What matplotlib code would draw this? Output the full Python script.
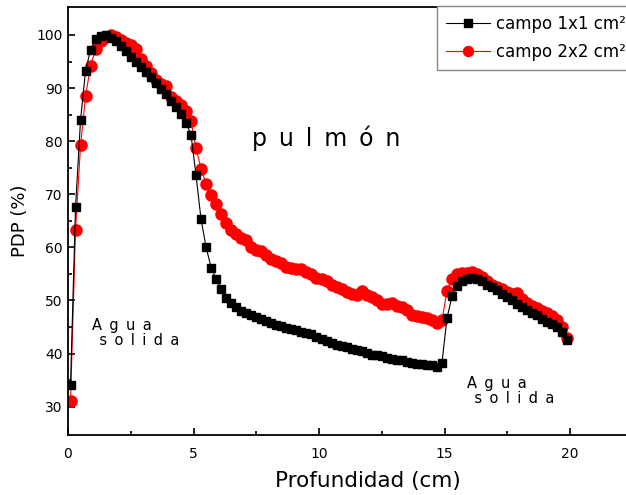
import matplotlib
matplotlib.use("Agg")
import matplotlib.pyplot as plt

depth = [0.1, 0.3, 0.5, 0.7, 0.9, 1.1, 1.3, 1.5, 1.7, 1.9,
         2.1, 2.3, 2.5, 2.7, 2.9, 3.1, 3.3, 3.5, 3.7, 3.9,
         4.1, 4.3, 4.5, 4.7, 4.9, 5.1, 5.3, 5.5, 5.7, 5.9,
         6.1, 6.3, 6.5, 6.7, 6.9, 7.1, 7.3, 7.5, 7.7, 7.9,
         8.1, 8.3, 8.5, 8.7, 8.9, 9.1, 9.3, 9.5, 9.7, 9.9,
         10.1, 10.3, 10.5, 10.7, 10.9, 11.1, 11.3, 11.5, 11.7, 11.9,
         12.1, 12.3, 12.5, 12.7, 12.9, 13.1, 13.3, 13.5, 13.7, 13.9,
         14.1, 14.3, 14.5, 14.7, 14.9, 15.1, 15.3, 15.5, 15.7, 15.9,
         16.1, 16.3, 16.5, 16.7, 16.9, 17.1, 17.3, 17.5, 17.7, 17.9,
         18.1, 18.3, 18.5, 18.7, 18.9, 19.1, 19.3, 19.5, 19.7, 19.9]

pdp_1x1 = [34.0, 67.6, 84.0, 93.3, 97.2, 99.2, 99.8, 100.0, 99.5, 98.8,
           97.9, 96.9, 95.9, 95.0, 94.0, 93.0, 92.0, 91.0, 89.9, 88.8,
           87.6, 86.4, 85.1, 83.5, 81.2, 73.6, 65.3, 60.1, 56.2, 54.1,
           52.2, 50.5, 49.5, 48.7, 48.1, 47.6, 47.2, 46.9, 46.6, 46.2,
           45.8, 45.4, 45.2, 44.9, 44.6, 44.4, 44.1, 43.9, 43.6, 43.2,
           42.8, 42.4, 42.0, 41.7, 41.5, 41.2, 40.9, 40.6, 40.4, 40.2,
           39.8, 39.7, 39.5, 39.2, 39.0, 38.8, 38.7, 38.5, 38.3, 38.1,
           38.0, 37.9, 37.8, 37.5, 38.3, 46.7, 50.8, 52.8, 53.7, 54.1,
           54.2, 54.0, 53.6, 53.0, 52.5, 51.9, 51.3, 50.7, 50.1, 49.4,
           48.8, 48.2, 47.7, 47.2, 46.6, 46.0, 45.5, 45.0, 44.0, 42.5]

pdp_2x2 = [31.0, 63.3, 79.2, 88.5, 94.2, 97.3, 98.9, 99.6, 100.0, 99.6,
           99.1, 98.5, 98.1, 97.3, 95.5, 94.1, 92.9, 91.6, 90.8, 90.3,
           88.4, 87.6, 86.9, 85.7, 83.8, 78.7, 74.8, 72.0, 69.9, 68.1,
           66.3, 64.5, 63.3, 62.6, 61.7, 61.3, 60.0, 59.6, 59.4, 58.5,
           57.9, 57.4, 57.1, 56.3, 56.2, 56.0, 55.9, 55.4, 54.9, 54.3,
           54.0, 53.6, 53.0, 52.5, 52.1, 51.6, 51.3, 51.0, 51.7, 51.0,
           50.6, 50.0, 49.3, 49.4, 49.5, 49.0, 48.7, 48.2, 47.3, 47.0,
           46.9, 46.7, 46.4, 45.8, 46.3, 51.8, 54.1, 55.0, 55.1, 55.1,
           55.4, 55.0, 54.4, 53.6, 53.0, 52.6, 52.1, 51.6, 51.2, 51.4,
           50.3, 49.5, 49.0, 48.6, 48.1, 47.6, 47.0, 46.3, 45.1, 43.0]

labels = ["campo 1x1 cm\u00b2", "campo 2x2 cm\u00b2"]
x_ticks = [0, 5, 10, 15, 20]
y_ticks = [30, 40, 50, 60, 70, 80, 90, 100]

W, H = 626, 495
fig = plt.figure(figsize=(W / 100, H / 100), dpi=100)
ax_left, ax_bottom = 68 / W, 1 - 435 / H
ax_w_px = 576
ax = fig.add_axes([ax_left, ax_bottom, ax_w_px / W, (435 - 7) / H])

font = "DejaVu Sans"

ax.plot(depth, pdp_1x1, color="black", lw=0.8, marker="s", ms=5.8,
        mfc="black", mec="black", label=labels[0], zorder=3)
ax.plot(depth, pdp_2x2, color="red", lw=0.8, marker="o", ms=8,
        mfc="red", mec="red", label=labels[1], zorder=2)

ax.set_xlim(0, ax_w_px / 25.1)
ax.set_ylim(24.67, 105.27)
ax.set_xticks(x_ticks)
ax.set_yticks(y_ticks)
ax.set_xticks([2.5, 7.5, 12.5, 17.5], minor=True)
ax.set_yticks([35, 45, 55, 65, 75, 85, 95], minor=True)
ax.tick_params(which="major", direction="in", length=5, width=1.2, labelsize=10)
ax.tick_params(axis="x", which="major", pad=9)
ax.tick_params(axis="y", which="major", pad=4)
ax.tick_params(which="minor", direction="in", length=3, width=1.2)
for lab in ax.get_xticklabels() + ax.get_yticklabels():
    lab.set_fontfamily(font)
for s in ["left", "bottom", "top"]:
    ax.spines[s].set_linewidth(1.3)
ax.spines["right"].set_visible(False)

ax.set_xlabel("Profundidad (cm)", fontsize=15.5, family=font, labelpad=7)
ax.xaxis.label.set_x((368 - 68) / ax_w_px)
ax.set_ylabel("PDP (%)", fontsize=13, family=font, labelpad=5)

leg = ax.legend(loc="upper left", bbox_to_anchor=((437 - 68) / ax_w_px, 1.002),
                borderaxespad=0, frameon=True, fancybox=False, framealpha=1,
                edgecolor="#888888", handlelength=2.6, handletextpad=0.36,
                labelspacing=0.6, borderpad=0.55, markerscale=0.9,
                prop={"family": font, "size": 12})
leg.get_frame().set_linewidth(1.0)

sp = "\u2002"
ax.text(10.28, 80.6, sp.join("pulmón"), fontsize=17, family=font,
        ha="center", va="center")
region_text = sp.join("Agua") + "\n" + sp + sp.join("solida")
ax.text(0.96, 43.8, region_text, fontsize=10.5, family=font,
        ha="left", va="center", linespacing=1.0)
ax.text(15.9, 33.0, region_text, fontsize=10.5, family=font,
        ha="left", va="center", linespacing=1.0)

fig.savefig("out.png", dpi=100)
